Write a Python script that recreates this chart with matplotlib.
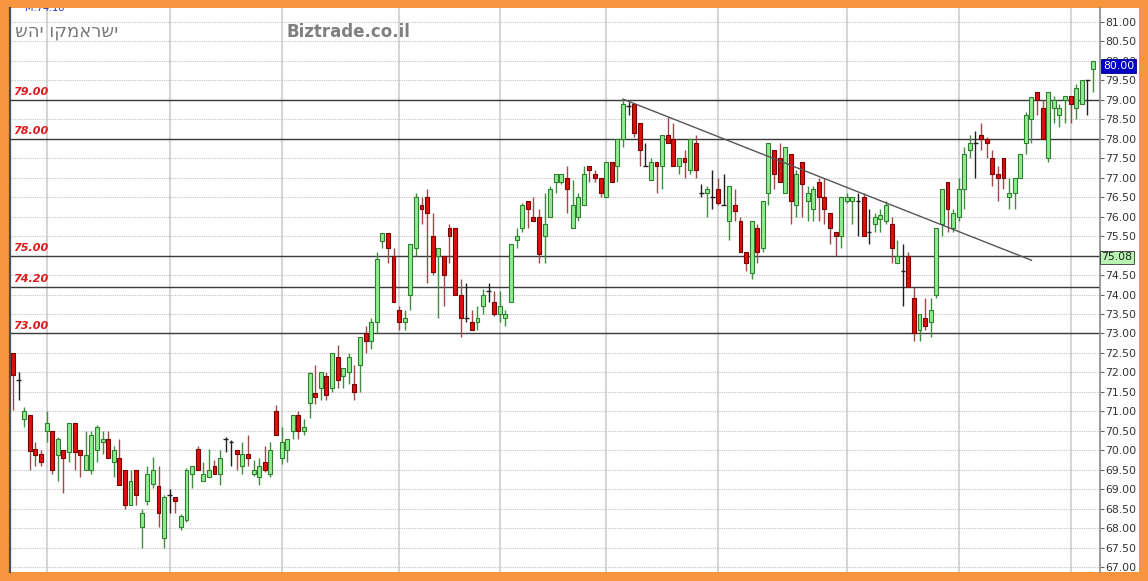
import numpy as np
import matplotlib
matplotlib.use('Agg')
import matplotlib.pyplot as plt
from matplotlib.patches import Rectangle

# נתוני נרות (יומי) - נקראו מהגרף
opens = [72.5, 71.8, 70.8, 70.9, 70.02, 69.9, 70.5, 70.5, 69.88, 70.0,
         69.95, 70.7, 70.0, 69.5, 69.5, 70.0, 70.2, 70.3, 69.7, 69.8,
         69.5, 68.6, 69.5, 68.03, 68.7, 69.12, 69.07, 67.74, 68.85, 68.8,
         68.03, 68.2, 69.4, 70.03, 69.2, 69.3, 69.6, 69.4, 70.3, 70.2,
         70.0, 69.6, 69.9, 69.4, 69.3, 69.7, 69.4, 71.0, 69.8, 70.0,
         70.5, 70.9, 70.5, 71.21, 71.47, 71.6, 71.9, 71.6, 72.4, 71.9,
         72.0, 71.7, 72.2, 73.0, 72.8, 73.3, 75.37, 75.58, 75.0, 73.6,
         73.3, 74.0, 75.2, 76.3, 76.5, 75.5, 75.0, 75.0, 75.7, 75.7,
         74.0, 73.4, 73.3, 73.3, 73.7, 74.1, 73.8, 73.5, 73.4, 73.8,
         75.4, 75.7, 76.4, 76.0, 76.0, 75.5, 76.0, 76.9, 76.9, 77.0,
         75.7, 76.0, 76.3, 77.3, 77.1, 77.0, 76.5, 77.4, 77.3, 78.0,
         78.85, 78.9, 78.4, 77.3, 76.95, 77.4, 77.3, 78.1, 78.0, 77.3,
         77.5, 77.2, 77.9, 76.6, 76.6, 76.5, 76.7, 76.3, 75.9, 76.3,
         75.9, 75.1, 74.55, 75.7, 75.2, 76.6, 77.7, 77.5, 76.6, 77.6,
         76.3, 77.4, 76.4, 76.2, 76.9, 76.5, 76.1, 75.6, 75.5, 76.4,
         76.4, 76.4, 76.5, 75.6, 75.8, 75.95, 75.9, 75.8, 74.8, 74.6,
         75.0, 73.9, 73.1, 73.4, 73.3, 74.0, 75.8, 76.9, 75.7, 76.0,
         76.7, 77.7, 77.9, 78.1, 78.0, 77.5, 77.1, 77.5, 76.5, 76.6,
         77.0, 77.9, 78.5, 79.2, 78.8, 77.5, 78.8, 78.6, 79.0, 79.1,
         78.8, 78.9, 79.5, 79.8]
highs = [72.5, 72.0, 71.1, 70.9, 70.2, 70.0, 71.0, 70.5, 70.35, 70.0,
         70.7, 70.7, 70.0, 70.5, 70.5, 70.65, 70.5, 70.5, 70.1, 70.3,
         69.5, 69.5, 69.5, 68.5, 69.6, 69.83, 69.6, 68.85, 69.0, 68.8,
         68.35, 69.55, 69.6, 70.1, 69.7, 70.03, 69.75, 70.0, 70.35, 70.25,
         70.0, 70.2, 70.4, 69.75, 69.8, 70.1, 70.2, 71.15, 70.6, 70.3,
         70.9, 71.0, 70.8, 72.0, 72.2, 72.0, 72.0, 72.5, 72.7, 72.1,
         72.5, 72.2, 72.9, 73.2, 73.4, 75.1, 75.58, 75.58, 75.2, 73.7,
         73.6, 75.3, 76.6, 76.5, 76.7, 76.1, 75.2, 75.0, 75.8, 75.7,
         74.4, 74.3, 73.6, 73.7, 74.15, 74.3, 74.1, 74.1, 73.6, 75.3,
         75.7, 76.35, 76.4, 76.5, 76.2, 76.6, 76.8, 77.1, 77.1, 77.3,
         76.95, 76.6, 77.3, 77.3, 77.2, 77.0, 77.4, 77.4, 78.0, 79.02,
         78.95, 78.9, 78.4, 77.9, 77.5, 77.4, 78.1, 78.55, 78.4, 77.5,
         77.7, 78.0, 78.1, 76.85, 76.8, 77.2, 77.0, 77.1, 76.8, 76.7,
         76.0, 75.1, 75.9, 75.8, 76.4, 77.9, 77.7, 77.9, 77.8, 77.6,
         77.2, 77.4, 76.8, 76.8, 77.0, 77.0, 76.1, 75.6, 76.5, 76.6,
         76.5, 76.6, 76.6, 76.2, 76.1, 76.2, 76.4, 76.0, 75.4, 75.3,
         75.1, 74.2, 73.5, 73.9, 73.9, 75.7, 76.7, 76.9, 76.2, 77.0,
         77.8, 78.1, 78.2, 78.4, 78.05, 77.7, 77.3, 77.5, 77.0, 77.0,
         77.6, 78.7, 79.08, 79.2, 79.0, 79.2, 79.1, 78.9, 79.1, 79.1,
         79.4, 79.5, 79.5, 80.0]
lows = [71.03, 71.3, 70.6, 69.5, 69.6, 69.6, 70.2, 69.4, 69.2, 68.9,
        69.7, 69.5, 69.3, 69.5, 69.4, 69.7, 69.9, 69.8, 69.3, 69.1,
        68.5, 68.6, 68.6, 67.5, 68.6, 69.03, 68.03, 67.5, 68.4, 68.4,
        67.95, 68.15, 69.03, 69.5, 69.2, 69.3, 69.4, 69.1, 69.95, 69.6,
        69.5, 69.4, 69.6, 69.35, 69.1, 69.45, 69.3, 70.4, 69.65, 69.7,
        70.3, 70.3, 70.4, 70.83, 71.2, 71.3, 71.3, 71.5, 71.6, 71.6,
        71.7, 71.3, 71.5, 72.5, 72.6, 73.0, 75.2, 74.8, 73.8, 73.1,
        73.1, 73.6, 75.0, 75.8, 74.3, 74.5, 73.4, 73.7, 74.8, 74.0,
        72.9, 73.3, 73.1, 73.1, 73.5, 73.8, 73.45, 73.3, 73.2, 73.8,
        75.2, 75.6, 75.7, 75.9, 74.8, 74.8, 76.0, 76.6, 76.85, 76.1,
        75.7, 75.9, 76.3, 76.9, 76.9, 76.5, 76.5, 76.9, 76.9, 77.8,
        78.6, 78.05, 77.3, 77.3, 76.95, 76.6, 76.7, 77.9, 77.3, 77.1,
        77.0, 77.1, 77.0, 76.5, 76.0, 76.2, 76.3, 76.3, 75.4, 75.9,
        75.1, 74.6, 74.4, 74.8, 75.1, 76.3, 76.7, 76.9, 76.6, 75.8,
        76.0, 76.0, 75.9, 75.9, 75.9, 75.8, 75.3, 75.0, 75.2, 76.35,
        75.8, 75.5, 75.5, 75.3, 75.6, 75.6, 75.8, 74.8, 74.8, 73.7,
        74.2, 72.8, 72.8, 73.1, 72.9, 73.9, 75.5, 75.6, 75.6, 75.9,
        76.2, 77.5, 77.0, 77.7, 77.5, 76.8, 76.4, 76.7, 76.2, 76.2,
        77.0, 77.6, 77.9, 78.6, 78.0, 77.4, 78.4, 78.3, 78.4, 78.4,
        78.5, 78.9, 78.6, 79.2]
closes = [71.93, 71.8, 71.0, 69.98, 69.88, 69.7, 70.7, 69.5, 70.28, 69.8,
          70.7, 69.95, 69.88, 69.88, 70.4, 70.6, 70.3, 69.8, 70.0, 69.1,
          68.6, 69.2, 68.85, 68.4, 69.4, 69.5, 68.4, 68.8, 68.85, 68.7,
          68.3, 69.5, 69.6, 69.5, 69.4, 69.5, 69.4, 69.8, 70.3, 70.2,
          69.9, 69.9, 69.8, 69.5, 69.6, 69.5, 70.0, 70.4, 70.2, 70.3,
          70.9, 70.5, 70.6, 71.99, 71.38, 72.0, 71.42, 72.5, 71.8, 72.1,
          72.4, 71.5, 72.9, 72.8, 73.3, 74.9, 75.58, 75.2, 73.8, 73.3,
          73.4, 75.3, 76.5, 76.2, 76.1, 74.58, 75.2, 74.5, 75.5, 74.0,
          73.4, 73.4, 73.1, 73.4, 74.0, 74.1, 73.5, 73.7, 73.5, 75.3,
          75.5, 76.3, 76.2, 75.9, 75.05, 75.8, 76.7, 77.1, 77.1, 76.7,
          76.3, 76.5, 77.1, 77.2, 77.0, 76.6, 77.4, 76.9, 78.0, 78.9,
          78.85, 78.15, 77.7, 77.3, 77.4, 77.3, 78.1, 77.9, 77.3, 77.5,
          77.4, 78.0, 77.2, 76.6, 76.7, 76.5, 76.35, 76.3, 76.8, 76.15,
          75.1, 74.8, 75.9, 75.1, 76.4, 77.9, 77.1, 76.9, 77.8, 76.4,
          77.1, 76.85, 76.6, 76.7, 76.5, 76.2, 75.7, 75.5, 76.5, 76.5,
          76.5, 76.4, 75.5, 75.6, 76.0, 76.05, 76.3, 75.2, 75.0, 74.6,
          74.2, 73.0, 73.5, 73.2, 73.6, 75.7, 76.7, 76.2, 76.1, 76.7,
          77.6, 77.9, 77.9, 78.0, 77.9, 77.1, 77.0, 77.0, 76.6, 77.0,
          77.6, 78.6, 79.08, 79.0, 78.0, 79.2, 79.0, 78.8, 79.1, 78.9,
          79.3, 79.5, 79.5, 80.0]

# תחילת חודש (מספר נר)
month_starts = [7, 29, 49, 70, 88, 107, 127, 150, 170, 190]

# קווי תמיכה/התנגדות
levels = [79.00, 78.00, 75.00, 74.20, 73.00]
level_labels = ['79.00', '78.00', '75.00', '74.20', '73.00']

# קו מגמה יורד
trend_x = [110, 183]
trend_y = [79.02, 74.88]

last_price = 80.00
level_box = 75.08
title_he = 'ישראמקו יהש'
site = 'Biztrade.co.il'

ORANGE = '#f7953f'
UP_FILL, UP_EDGE, UP_WICK = '#90ec90', '#2f7f2f', '#3f8f3f'
DN_FILL, DN_EDGE, DN_WICK = '#dd1010', '#7a0000', '#9c4a4a'

W, H = 1148, 581
fig = plt.figure(figsize=(W / 100, H / 100), dpi=100, facecolor=ORANGE)
ax = fig.add_axes([10 / W, 9 / H, 1090 / W, 564 / H])

# רקע לבן לציר המחירים מימין
fig.patches.append(Rectangle((1100 / W, 9 / H), 39 / W, 564 / H,
                             transform=fig.transFigure, facecolor='white',
                             edgecolor='none', zorder=-1))

o, h, l, c = map(np.array, (opens, highs, lows, closes))
idx = np.arange(1, len(o) + 1)
up = c > o
dn = c < o
flat = c == o

# גריד
yticks = np.arange(67, 81.01, 0.5)
ax.set_yticks(yticks)
ax.grid(axis='y', color='#c4c4c4', linestyle=(0, (1, 1)), linewidth=0.8, zorder=0)
ax.vlines(month_starts, 66, 82, color='#d6d6d6', linewidth=1.5, zorder=0)

# קווים אופקיים
for lv, lab in zip(levels, level_labels):
    ax.axhline(lv, color='#3a3a3a', linewidth=1, zorder=2)
    ax.annotate(lab, xy=(0, lv), xycoords=ax.get_yaxis_transform(),
                xytext=(2.5, 2), textcoords='offset points', va='bottom', ha='left',
                color='#e01818', fontsize=8, fontweight='bold', fontstyle='italic')

# נרות
ax.vlines(idx[up], l[up], h[up], color=UP_WICK, linewidth=1, zorder=3)
ax.vlines(idx[dn], l[dn], h[dn], color=DN_WICK, linewidth=1, zorder=3)
ax.vlines(idx[flat], l[flat], h[flat], color='#202020', linewidth=1, zorder=3)
ax.bar(idx[up], c[up] - o[up], bottom=o[up], width=0.7, color=UP_FILL,
       edgecolor=UP_EDGE, linewidth=0.8, zorder=4)
ax.bar(idx[dn], o[dn] - c[dn], bottom=c[dn], width=0.7, color=DN_FILL,
       edgecolor=DN_EDGE, linewidth=0.8, zorder=4)
ax.hlines(o[flat], idx[flat] - 0.4, idx[flat] + 0.4, color='#202020',
          linewidth=1, zorder=4)

# קו מגמה
ax.plot(trend_x, trend_y, color='#555555', linewidth=1, zorder=5)

ax.set_xlim(0.46, 195.25)
ax.set_ylim(66.872, 81.36)
ax.set_xticks([])

# ציר ימני - התווית 75.00 מוסתרת מתחת לתיבת 75.08
ax.yaxis.tick_right()
ax.set_yticklabels(['' if abs(v - 75.0) < 1e-6 else f'{v:.2f}' for v in yticks])
ax.tick_params(axis='y', right=True, left=False, length=3, width=0.8,
               color='#666666', labelsize=7.8, labelcolor='#333333', pad=1)
for s in ['top', 'bottom']:
    ax.spines[s].set_visible(False)
ax.spines['right'].set_color('#8a8a8a')
ax.spines['right'].set_linewidth(1.2)
ax.spines['left'].set_color('#505050')
ax.spines['left'].set_linewidth(1.6)

# תיבות מחיר
ax.annotate(f'{last_price:.2f}', xy=(1, last_price), xycoords=ax.get_yaxis_transform(),
            xytext=(2, 0), textcoords='offset points', va='top', ha='left',
            color='white', fontsize=7.8, zorder=10, annotation_clip=False,
            bbox=dict(boxstyle='square,pad=0.15', facecolor='#0000c8', edgecolor='#000080', lw=0.6))
ax.annotate(f'{level_box:.2f}', xy=(1, level_box), xycoords=ax.get_yaxis_transform(),
            xytext=(1, 0), textcoords='offset points', va='top', ha='left',
            color='#222222', fontsize=7.8, zorder=10, annotation_clip=False,
            bbox=dict(boxstyle='square,pad=0.15', facecolor='#b8f5b0', edgecolor='#333333', lw=0.6))

# טקסטים עליונים
ax.text(15 / 1090, 1.0, 'M:74.18', transform=ax.transAxes, va='center', ha='left',
        fontsize=7, color='#3030c0', clip_on=True)
fig.text(15 / W, 1 - 32 / H, title_he[::-1], va='center', ha='left',
         fontsize=13, color='#7a7a7a', family='DejaVu Sans')
fig.text(287 / W, 1 - 32 / H, site, va='center', ha='left',
         fontsize=12, fontweight='bold', color='#7f7f7f')

fig.savefig('out.png', dpi=100, facecolor=ORANGE)
